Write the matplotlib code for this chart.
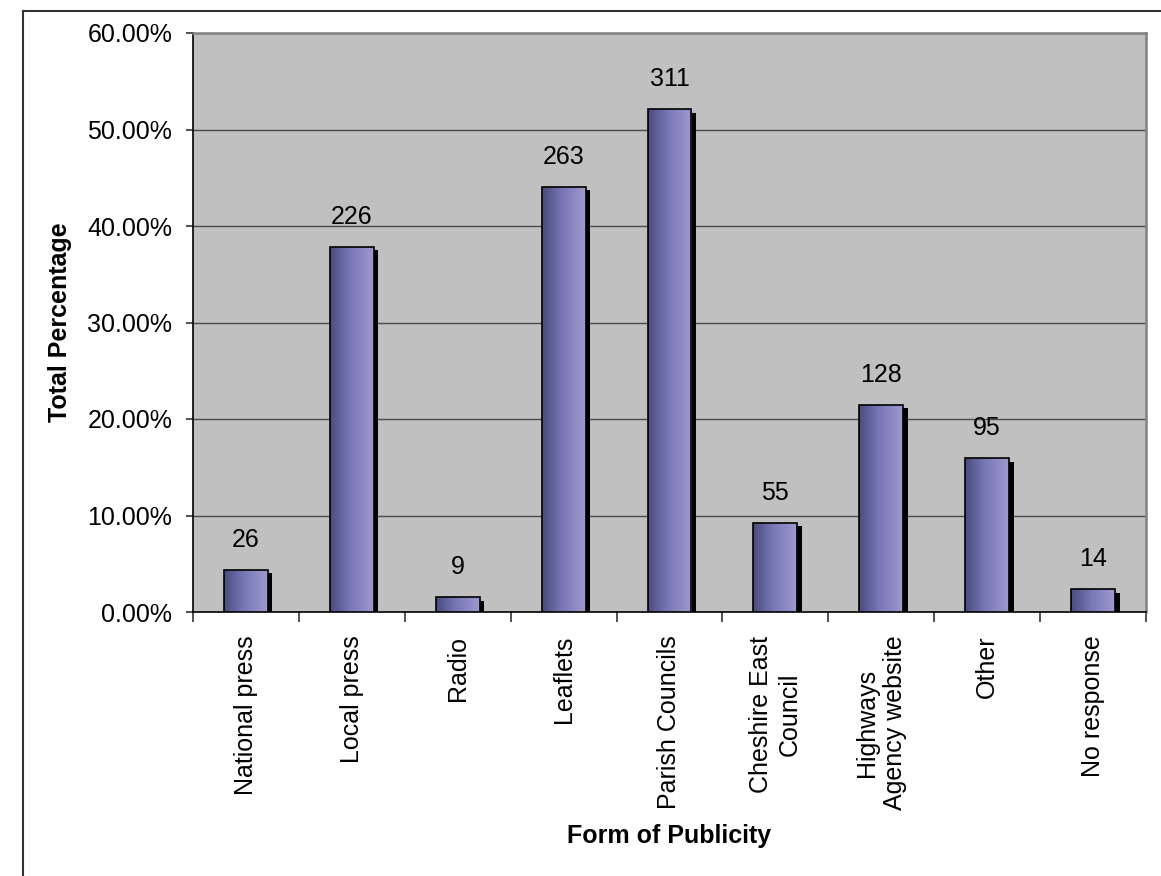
import numpy as np
import matplotlib
matplotlib.use("Agg")
import matplotlib.pyplot as plt
from matplotlib.patches import Rectangle
from matplotlib.lines import Line2D
from matplotlib.colors import LinearSegmentedColormap
from matplotlib.ticker import FixedLocator, FuncFormatter
import matplotlib.transforms as mtransforms

# Survey answers: how respondents heard about the scheme
categories = ['National press', 'Local press', 'Radio', 'Leaflets',
              'Parish Councils', 'Cheshire East\nCouncil',
              'Highways\nAgency website', 'Other', 'No response']
counts = [26, 226, 9, 263, 311, 55, 128, 95, 14]
respondents = 597
y_ticks = [0.0, 0.1, 0.2, 0.3, 0.4, 0.5, 0.6]

shares = [c / respondents for c in counts]

plt.rcParams['font.family'] = ['Liberation Sans', 'DejaVu Sans']

W, H, DPI = 1161, 876, 100
fig = plt.figure(figsize=(W / DPI, H / DPI), dpi=DPI)
fig.patch.set_facecolor('white')

# outer chart frame (top and left edges)
frame_col = '#333333'
fig.add_artist(Line2D([23 / W, 23 / W], [0, 1 - 11 / H], color=frame_col, lw=1.5,
                      transform=fig.transFigure))
fig.add_artist(Line2D([23 / W, 1], [1 - 11 / H, 1 - 11 / H], color=frame_col, lw=1.5,
                      transform=fig.transFigure))

left, right, top, bottom = 193, 1146, 33, 612
ax = fig.add_axes([left / W, 1 - bottom / H, (right - left) / W, (bottom - top) / H])
ax.set_facecolor('#c0c0c0')
n = len(categories)
ax.set_xlim(0, n)
ax.set_ylim(0, 0.6)

# horizontal gridlines
for yv in y_ticks[1:-1]:
    ax.axhline(yv, color='#4a4a4a', lw=1.0, zorder=1)

# spines
ax.spines['left'].set_color('black')
ax.spines['bottom'].set_color('black')
ax.spines['left'].set_linewidth(1.2)
ax.spines['bottom'].set_linewidth(1.2)
for s in ('top', 'right'):
    ax.spines[s].set_color('#808080')
    ax.spines[s].set_linewidth(1.8)

# gradient for the bar faces
grad_cmap = LinearSegmentedColormap.from_list(
    'barface', [(0.0, '#4b4b7c'), (0.45, '#7777b7'), (1.0, '#9e9acd')])
grad = np.linspace(0, 1, 256).reshape(1, -1)

bar_w = 0.415
shadow_shift = mtransforms.ScaledTranslation(4.5 / DPI, -3.3 / DPI, fig.dpi_scale_trans)
label_shift = mtransforms.ScaledTranslation(0, 30 / DPI, fig.dpi_scale_trans)

for i, (val, cnt) in enumerate(zip(shares, counts)):
    x0 = i + 0.5 - bar_w / 2
    # drop shadow
    shadow = Rectangle((x0, 0), bar_w, val, facecolor='black', edgecolor='none',
                       transform=ax.transData + shadow_shift, zorder=2)
    ax.add_patch(shadow)
    # bar outline and gradient fill
    rect = Rectangle((x0, 0), bar_w, val, facecolor='none', edgecolor='black',
                     lw=1.2, zorder=4)
    ax.add_patch(rect)
    img = ax.imshow(grad, cmap=grad_cmap, aspect='auto',
                    extent=(x0, x0 + bar_w, 0, val), zorder=3,
                    interpolation='bilinear')
    img.set_clip_path(rect)
    # count label above the bar
    ax.text(i + 0.5, val, str(cnt), ha='center', va='center', fontsize=18,
            transform=ax.transData + label_shift, zorder=5)

ax.set_xlim(0, n)
ax.set_ylim(0, 0.6)

# y axis
ax.yaxis.set_major_locator(FixedLocator(y_ticks))
ax.yaxis.set_major_formatter(FuncFormatter(lambda v, p: f'{v * 100:.2f}%'))
ax.tick_params(axis='y', direction='out', length=5, width=1.2, color='#333333',
               pad=10, labelsize=18)

# x axis: tick marks between categories, labels at category centres
ax.xaxis.set_major_locator(FixedLocator([i + 0.5 for i in range(n)]))
ax.set_xticklabels(categories, rotation=90, ha='center', va='top',
                   multialignment='center')
ax.xaxis.set_minor_locator(FixedLocator(list(range(n + 1))))
ax.tick_params(axis='x', which='major', length=0, pad=17, labelsize=18)
ax.tick_params(axis='x', which='minor', direction='out', length=7.2, width=1.2,
               color='#333333')

ax.set_ylabel('Total Percentage', fontsize=18, fontweight='bold')
ax.yaxis.set_label_coords((60 - left) / (right - left), 0.5)
ax.yaxis.label.set_va('center')

ax.set_xlabel('Form of Publicity', fontsize=18, fontweight='bold')
ax.xaxis.set_label_coords(0.5, (bottom - 836) / (bottom - top))
ax.xaxis.label.set_va('center')

fig.savefig('out.png', dpi=DPI, facecolor='white')
